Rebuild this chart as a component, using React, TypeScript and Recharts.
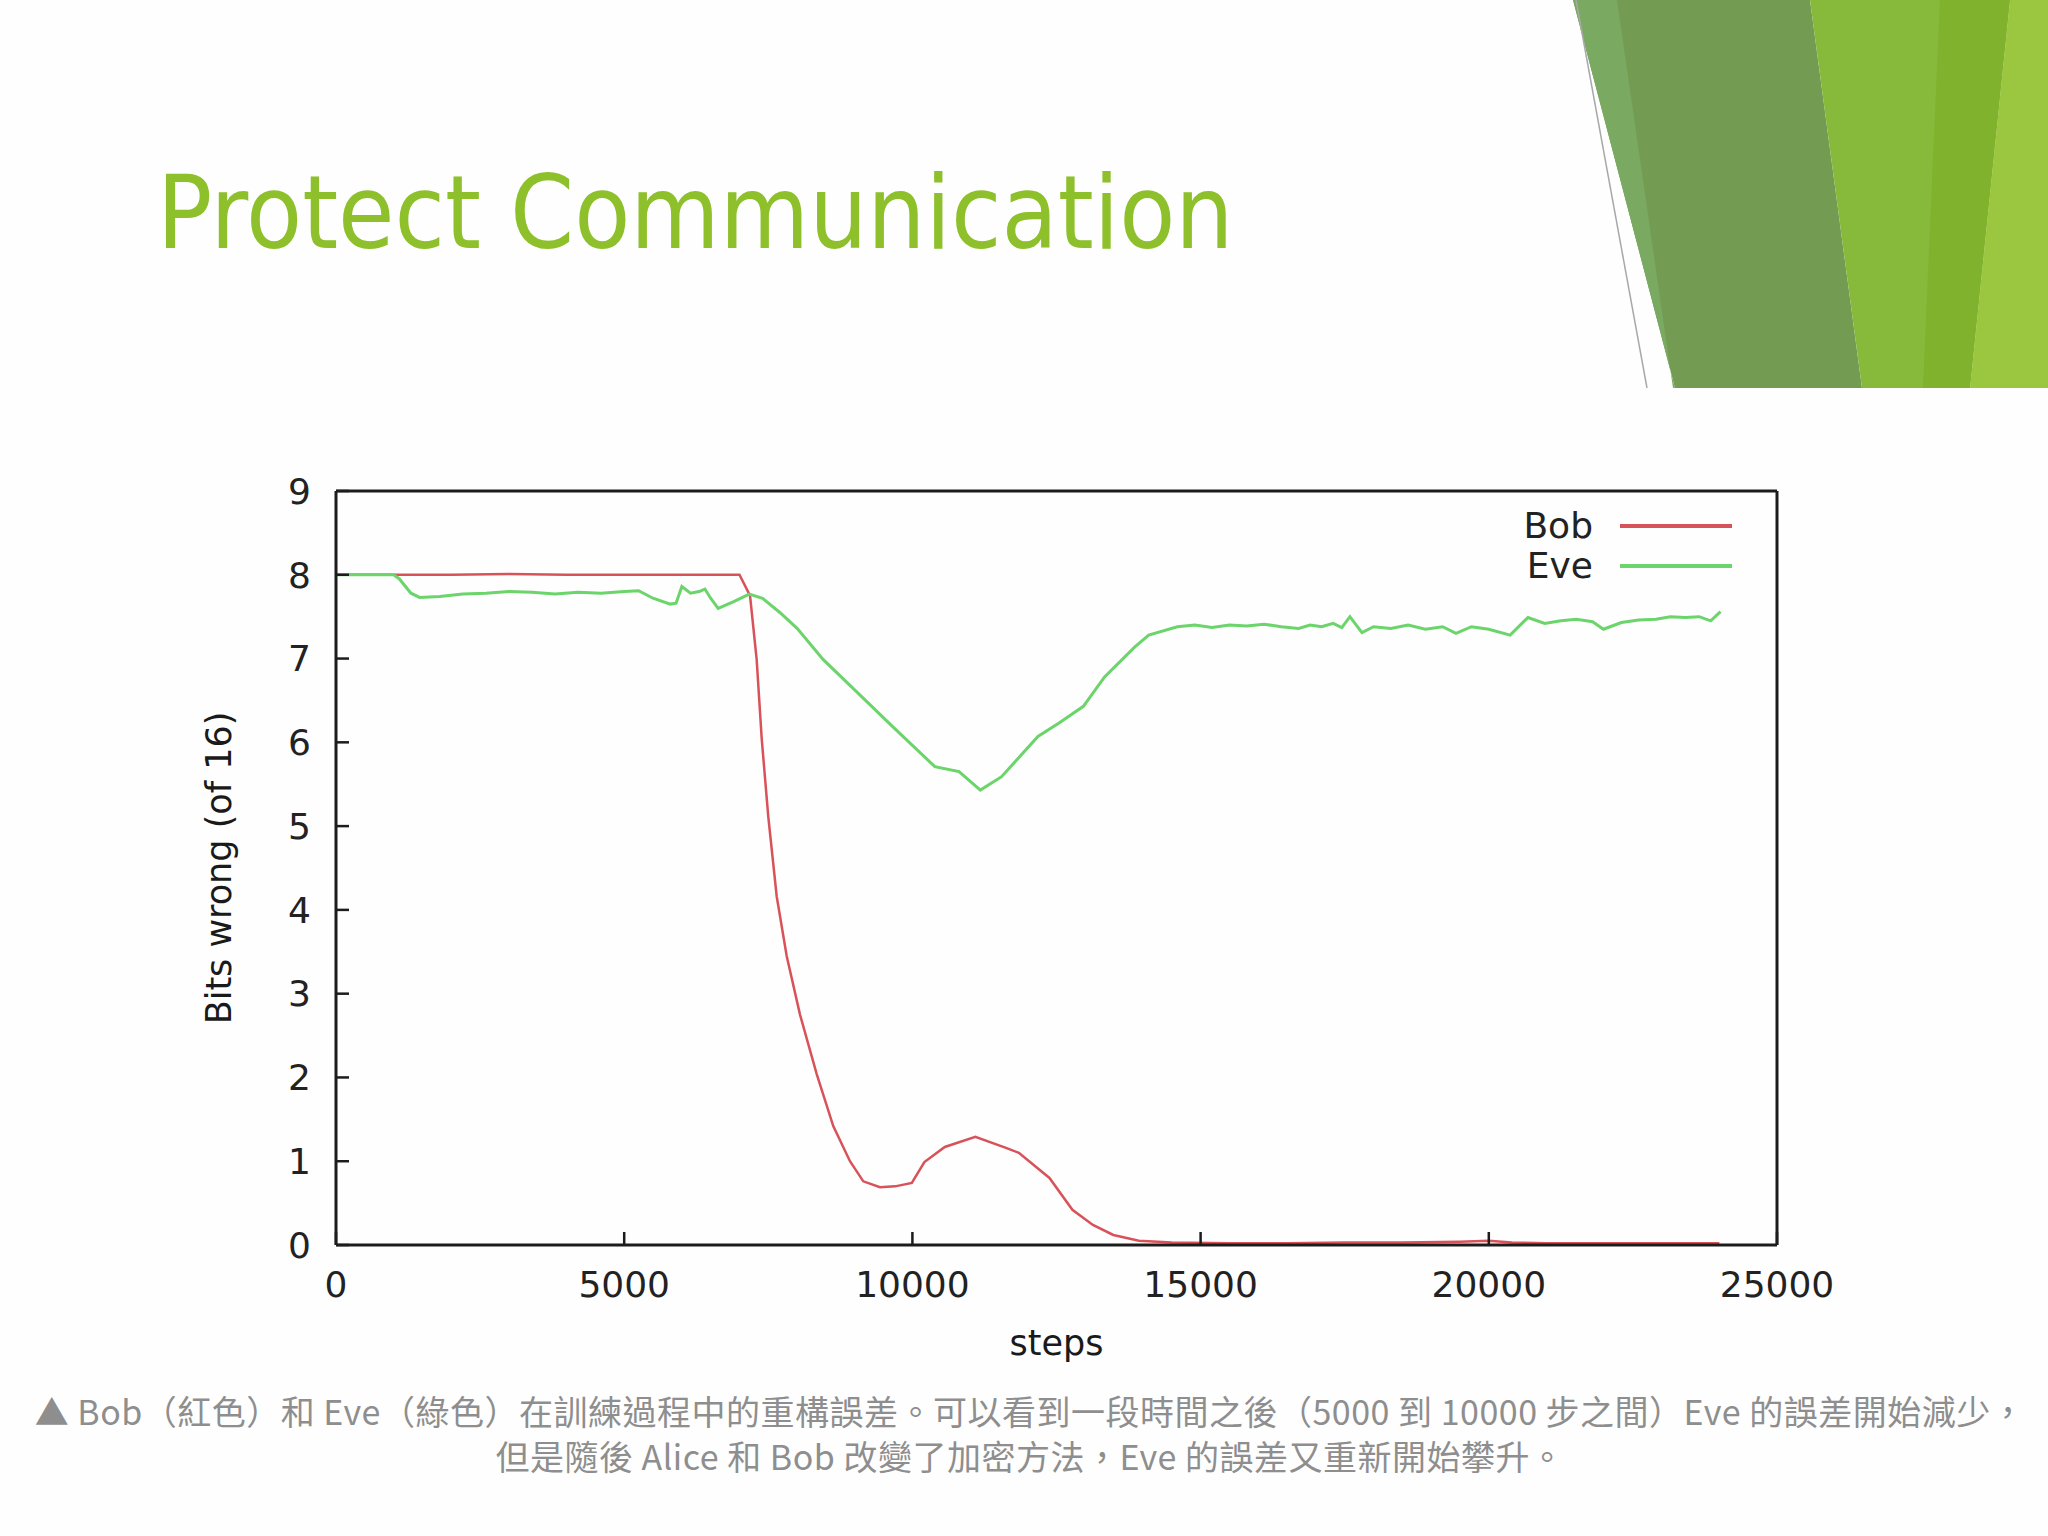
import { LineChart, Line, XAxis, YAxis, Legend } from "recharts";

const X_TICKS = [0, 5000, 10000, 15000, 20000, 25000];
const Y_TICKS = [0, 1, 2, 3, 4, 5, 6, 7, 8, 9];

const BOB_STEPS = [
  0, 1000, 2000, 3000, 4000, 5000, 6000, 7000, 7183, 7298, 7385, 7500, 7646, 7819, 8050, 8340, 8627,
  8917, 9148, 9437, 9700, 9990, 10208, 10562, 11093, 11623, 11847, 12378, 12776, 13132, 13486, 13929,
  14500, 15500, 16500, 17500, 18500, 19500, 20000, 20400, 21000, 22000, 23000, 24000,
];
const BOB_BITS = [
  8.0, 8.0, 8.0, 8.01, 8.0, 8.0, 8.0, 8.0, 7.75, 6.99, 6.05, 5.11, 4.16, 3.45, 2.75, 2.04, 1.42,
  1.0, 0.76, 0.69, 0.7, 0.74, 0.99, 1.17, 1.29, 1.16, 1.1, 0.8, 0.42, 0.24, 0.12, 0.05,
  0.03, 0.02, 0.02, 0.03, 0.03, 0.04, 0.05, 0.03, 0.02, 0.02, 0.02, 0.02,
];

const EVE_STEPS = [
  0, 500, 1000, 1100, 1300, 1450, 1800, 2200, 2600, 3000, 3400, 3800, 4200, 4600, 5000, 5250, 5500,
  5800, 5900, 6000, 6150, 6300, 6400, 6500, 6630, 6900, 7170, 7400, 7700, 8000, 8450, 8917, 9653,
  10389, 10809, 11179, 11547, 12178, 12544, 12966, 13334, 13860, 14100, 14597, 14900, 15200, 15500,
  15800, 16100, 16400, 16700, 16900, 17100, 17300, 17450, 17590, 17800, 18000, 18300, 18600, 18900,
  19200, 19430, 19700, 20000, 20370, 20680, 20970, 21250, 21520, 21800, 21990, 22300, 22600, 22900,
  23150, 23410, 23650, 23850, 24020,
];
const EVE_BITS = [
  8.0, 8.0, 8.0, 7.95, 7.78, 7.73, 7.74, 7.77, 7.78, 7.8, 7.79, 7.77, 7.79, 7.78, 7.8, 7.81, 7.72,
  7.65, 7.66, 7.86, 7.78, 7.8, 7.83, 7.72, 7.6, 7.68, 7.77, 7.72, 7.55, 7.36, 6.99, 6.68, 6.19,
  5.71, 5.65, 5.43, 5.59, 6.07, 6.23, 6.43, 6.78, 7.14, 7.28, 7.38, 7.4, 7.37, 7.4,
  7.39, 7.41, 7.38, 7.36, 7.4, 7.38, 7.42, 7.37, 7.5, 7.31, 7.38, 7.36, 7.4, 7.35,
  7.38, 7.3, 7.38, 7.35, 7.28, 7.49, 7.42, 7.45, 7.47, 7.44, 7.35, 7.43, 7.46, 7.47,
  7.5, 7.49, 7.5, 7.45, 7.56,
];

const CAPTION_LINES = [
  "▲ Bob（紅色）和 Eve（綠色）在訓練過程中的重構誤差。可以看到一段時間之後（5000 到 10000 步之間）Eve 的誤差開始減少，",
  "但是隨後 Alice 和 Bob 改變了加密方法，Eve 的誤差又重新開始攀升。",
];

const bobData = BOB_STEPS.map((step, i) => ({ step, bits: BOB_BITS[i] }));
const eveData = EVE_STEPS.map((step, i) => ({ step, bits: EVE_BITS[i] }));

const FONT = "'DejaVu Sans', sans-serif";
const AXIS_COLOR = "#1c1c1c";
const tickStyle = { fontSize: 36, fill: "#222", fontFamily: FONT };
const axisTitleStyle = { fontSize: 35, fill: "#1a1a1a", fontFamily: FONT, textAnchor: "middle" as const };

function renderLegend(props: any) {
  const items = props.payload ?? [];
  return (
    <div style={{ fontFamily: FONT, fontSize: 36, color: "#222" }}>
      {items.map((it: any) => (
        <div key={it.value} style={{ display: "flex", alignItems: "center", height: 40 }}>
          <span style={{ width: 100, textAlign: "right", lineHeight: "40px" }}>{it.value}</span>
          <span style={{ width: 112, height: 4, marginLeft: 27, background: it.color }} />
        </div>
      ))}
    </div>
  );
}

export default function App() {
  return (
    <div
      style={{
        position: "absolute",
        left: 0,
        top: 0,
        width: 2048,
        height: 1536,
        overflow: "hidden",
        background: "#fefefe",
      }}
    >
      <svg width={2048} height={1536} style={{ position: "absolute", left: 0, top: 0 }}>
        <polygon points="1573,0 1810,0 1862,388 1675,388" fill="#739c52" />
        <polygon points="1573,0 1617,0 1673,388 1675,388" fill="#7aa962" />
        <polygon points="1810,0 2010,0 1970,388 1862,388" fill="#87b93a" />
        <polygon points="1940,0 2010,0 1970,388 1923,388" fill="#80b22d" />
        <polygon points="2010,0 2048,0 2048,388 1970,388" fill="#9bc63f" />
        <line x1={1576} y1={0} x2={1647} y2={388} stroke="#a8a8a8" strokeWidth={1.5} />
        <text
          x={157}
          y={248}
          fill="#8dc02a"
          fontSize={102}
          fontFamily="'DejaVu Sans Condensed', 'DejaVu Sans', sans-serif"
        >
          Protect Communication
        </text>
      </svg>

      <div style={{ position: "absolute", left: 0, top: 400 }}>
        <LineChart width={1900} height={1000} margin={{ top: 90, right: 122, bottom: 0, left: 136 }}>
          <XAxis
            xAxisId="bottom"
            dataKey="step"
            type="number"
            domain={[0, 25000]}
            ticks={X_TICKS}
            interval={0}
            height={155}
            tickSize={-13}
            tickMargin={39}
            stroke={AXIS_COLOR}
            axisLine={{ strokeWidth: 3 }}
            tickLine={{ strokeWidth: 2.5 }}
            tick={tickStyle}
            label={{ value: "steps", position: "insideBottom", offset: 45, style: axisTitleStyle }}
          />
          <XAxis
            xAxisId="top"
            orientation="top"
            dataKey="step"
            type="number"
            domain={[0, 25000]}
            ticks={X_TICKS}
            interval={0}
            height={1}
            tickSize={-13}
            stroke={AXIS_COLOR}
            axisLine={{ strokeWidth: 3 }}
            tickLine={{ strokeWidth: 2.5 }}
            tick={false}
          />
          <YAxis
            yAxisId="left"
            type="number"
            domain={[0, 9]}
            ticks={Y_TICKS}
            interval={0}
            width={200}
            tickSize={-13}
            tickMargin={38}
            stroke={AXIS_COLOR}
            axisLine={{ strokeWidth: 3 }}
            tickLine={{ strokeWidth: 2.5 }}
            tick={tickStyle}
            label={{
              value: "Bits wrong (of 16)",
              angle: -90,
              position: "insideLeft",
              offset: 83,
              style: axisTitleStyle,
            }}
          />
          <YAxis
            yAxisId="right"
            orientation="right"
            type="number"
            domain={[0, 9]}
            ticks={Y_TICKS}
            interval={0}
            width={1}
            tickSize={-13}
            stroke={AXIS_COLOR}
            axisLine={{ strokeWidth: 3 }}
            tickLine={{ strokeWidth: 2.5 }}
            tick={false}
          />
          <Legend
            layout="vertical"
            align="center"
            verticalAlign="middle"
            wrapperStyle={{ left: 1493, top: 106, width: 260 }}
            content={renderLegend}
          />
          <Line
            name="Bob"
            data={bobData}
            dataKey="bits"
            xAxisId="bottom"
            yAxisId="left"
            stroke="#d8525a"
            strokeWidth={2.5}
            dot={false}
            isAnimationActive={false}
          />
          <Line
            name="Eve"
            data={eveData}
            dataKey="bits"
            xAxisId="bottom"
            yAxisId="left"
            stroke="#6bd46b"
            strokeWidth={3}
            dot={false}
            isAnimationActive={false}
          />
        </LineChart>
      </div>

      <div
        style={{
          position: "absolute",
          left: 0,
          top: 1388,
          width: 2060,
          textAlign: "center",
          fontFamily: "'Noto Sans CJK TC', sans-serif",
          fontSize: 34,
          letterSpacing: 0.5,
          lineHeight: "45px",
          color: "#8e8e8e",
          whiteSpace: "nowrap",
        }}
      >
        {CAPTION_LINES.map((line) => (
          <div key={line}>{line}</div>
        ))}
      </div>
    </div>
  );
}
